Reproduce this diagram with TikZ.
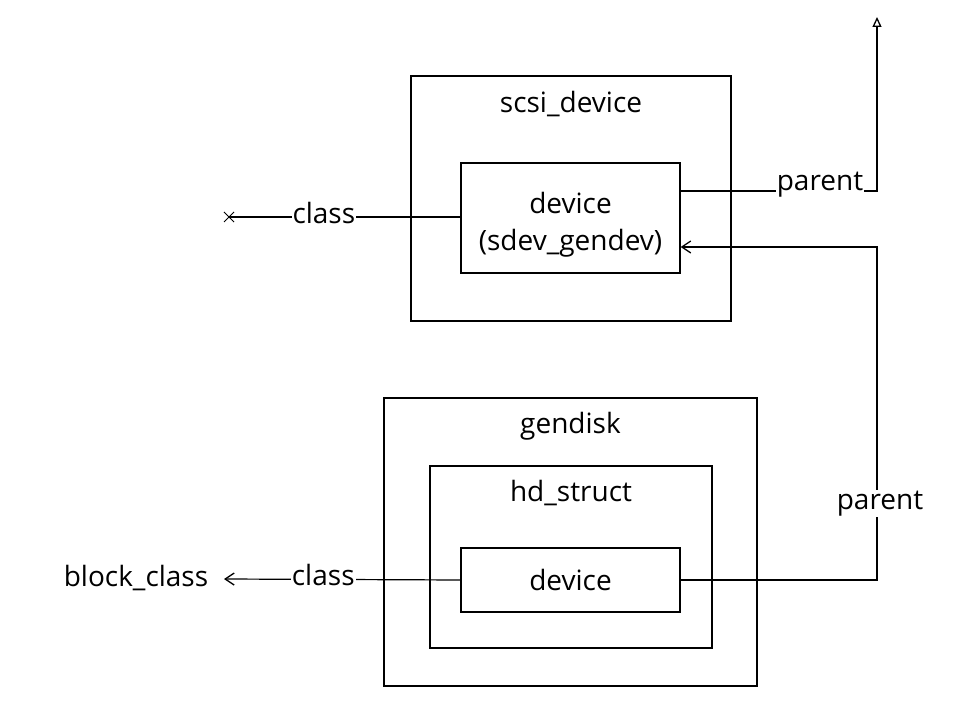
\documentclass[tikz,border=0pt]{standalone}
\usepackage{fontspec}
\setmainfont{Open Sans}
\usetikzlibrary{arrows.meta,shapes.misc}
\tikzset{
  box/.style={draw,line width=1.3pt,minimum width=#1,inner sep=0pt},
  title/.style={font=\fontsize{28}{34}\selectfont,inner sep=1pt},
  lbl/.style={font=\fontsize{28}{34}\selectfont,fill=white,inner sep=1pt,text height=19pt,text depth=6pt},
  conn/.style={line width=1.2pt},
  bhead/.style={-{Straight Barb[length=9pt,width=12pt,line width=1.3pt]}},
  thead/.style={-{Triangle[open,length=10pt,width=9pt,line width=1.3pt]}}
}
\begin{document}
\begin{tikzpicture}[x=1pt,y=-1pt]
\useasboundingbox (0,0) rectangle (964,708);
% top structure
\node[box=320pt,minimum height=245pt] (scsi) at (571,198.5) {};
\node[title] (scsit) at (571,104) {scsi\_device};
\node[box=219pt,minimum height=110pt] (dev1) at (570.5,218) {};
\node[align=center,font=\fontsize{28}{37}\selectfont,inner sep=0pt] (dev1t) at (570.5,225) {device\\(sdev\_gendev)};
% bottom structure
\node[box=373pt,minimum height=288pt] (gd) at (570.5,542) {};
\node[title] (gdt) at (570.5,426) {gendisk};
\node[box=282pt,minimum height=182pt] (hd) at (571,557) {};
\node[title] (hdt) at (571,493) {hd\_struct};
\node[box=219pt,minimum height=64pt,font=\fontsize{28}{34}\selectfont] (dev2) at (570.5,580) {device};
% left side
\node[title] (blk) at (136,578) {block\_class};
\coordinate (blkend) at (224,579);
\node[cross out,draw,line width=1pt,minimum size=9pt,inner sep=0pt] (xm) at (229,217) {};
% right side coordinates
\coordinate (up1) at (877,191);
\coordinate (uptop) at (877,17);
\coordinate (lo1) at (877,580);
\coordinate (lo2) at (877,247);
% class connectors
\draw[conn] (dev1.west |- 0,217) -- (xm.center) node[lbl,pos=0.59] (cl1) {class};
\draw[conn,bhead] (dev2.west) -- (blkend) node[lbl,pos=0.58] (cl2) {class};
% parent connectors
\draw[conn,thead] (dev1.east |- up1) -- (up1) -- (uptop);
\node[lbl] (p1) at (820,184) {parent};
\draw[conn,bhead] (dev2.east) -- (lo1) -- (lo2) -- (dev1.east |- lo2);
\node[lbl] (p2) at (880,503) {parent};
\end{tikzpicture}
\end{document}
